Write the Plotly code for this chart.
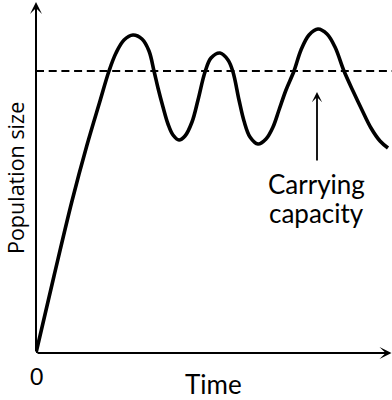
import plotly.graph_objects as go

# Population curve (time units, population units)
time = [0, 18, 36, 51, 64, 73, 80, 88, 97, 106, 113, 118, 122, 127, 132, 137, 143, 149,
        156, 162, 169, 175, 184, 192, 197, 203, 208, 214, 222, 230, 237, 243, 250, 258,
        265, 273, 282, 291, 299, 308, 317, 326, 335, 344, 352]
population = [0, 77, 152, 208, 252, 282, 300, 313, 318, 314, 302, 282, 265, 246, 229, 218,
              213, 217, 231, 253, 281, 295, 300, 293, 281, 253, 232, 216, 209, 214, 226,
              243, 263, 282, 303, 318, 324, 319, 306, 282, 262, 243, 225, 212, 205]
carrying_capacity = 282
time_span = [0, 356]
pop_span = [0, 353]

FONT = "Lato, Liberation Sans, sans-serif"


def px(t):
    return t / time_span[1]


def py(n):
    return n / pop_span[1]


fig = go.Figure()
fig.add_trace(go.Scatter(
    x=time_span, y=[carrying_capacity, carrying_capacity], mode="lines",
    line=dict(color="black", width=1.8, dash="8px,4.7px"), hoverinfo="skip"))
fig.add_trace(go.Scatter(
    x=time, y=population, mode="lines",
    line=dict(color="black", width=3.6, shape="spline", smoothing=1),
    hoverinfo="skip"))

ann = []
# axes with arrowheads
ann.append(dict(x=0, y=351, ax=0, ay=0, xref="x", yref="y", axref="x", ayref="y",
                text="", showarrow=True, arrowhead=3, arrowwidth=2, arrowsize=1,
                arrowcolor="black"))
ann.append(dict(x=355.5, y=0, ax=0, ay=0, xref="x", yref="y", axref="x", ayref="y",
                text="", showarrow=True, arrowhead=3, arrowwidth=2, arrowsize=1,
                arrowcolor="black"))
# carrying capacity pointer
ann.append(dict(x=281, y=261, ax=281, ay=191, xref="x", yref="y", axref="x", ayref="y",
                text="", showarrow=True, arrowhead=3, arrowwidth=1.8, arrowsize=0.95,
                arrowcolor="black"))
ann.append(dict(x=280, y=169.5, xref="x", yref="y", text="Carrying", showarrow=False,
                xanchor="center", yanchor="middle",
                font=dict(family=FONT, size=26, color="black")))
ann.append(dict(x=280, y=140.5, xref="x", yref="y", text="capacity", showarrow=False,
                xanchor="center", yanchor="middle",
                font=dict(family=FONT, size=26, color="black")))
ann.append(dict(x=px(177), y=py(-30.5), xref="paper", yref="paper", text="Time",
                showarrow=False, xanchor="center", yanchor="middle",
                font=dict(family=FONT, size=26, color="black")))
ann.append(dict(x=px(0), y=py(-23), xref="paper", yref="paper", text="0", showarrow=False,
                xanchor="center", yanchor="middle",
                font=dict(family=FONT, size=23, color="black")))
ann.append(dict(x=px(-21), y=py(175), xref="paper", yref="paper", text="Population size",
                showarrow=False, textangle=-90, xanchor="center", yanchor="middle",
                font=dict(family="Open Sans, sans-serif", size=21.5, color="black")))

fig.update_layout(
    width=392, height=400,
    margin=dict(l=36, r=0, t=0, b=47, pad=0),
    paper_bgcolor="white", plot_bgcolor="white",
    showlegend=False,
    annotations=ann,
    xaxis=dict(range=time_span, visible=False, fixedrange=True),
    yaxis=dict(range=pop_span, visible=False, fixedrange=True),
)
fig.write_html("out.html", config={"displayModeBar": False},
               post_script="document.body.style.margin='0';")
